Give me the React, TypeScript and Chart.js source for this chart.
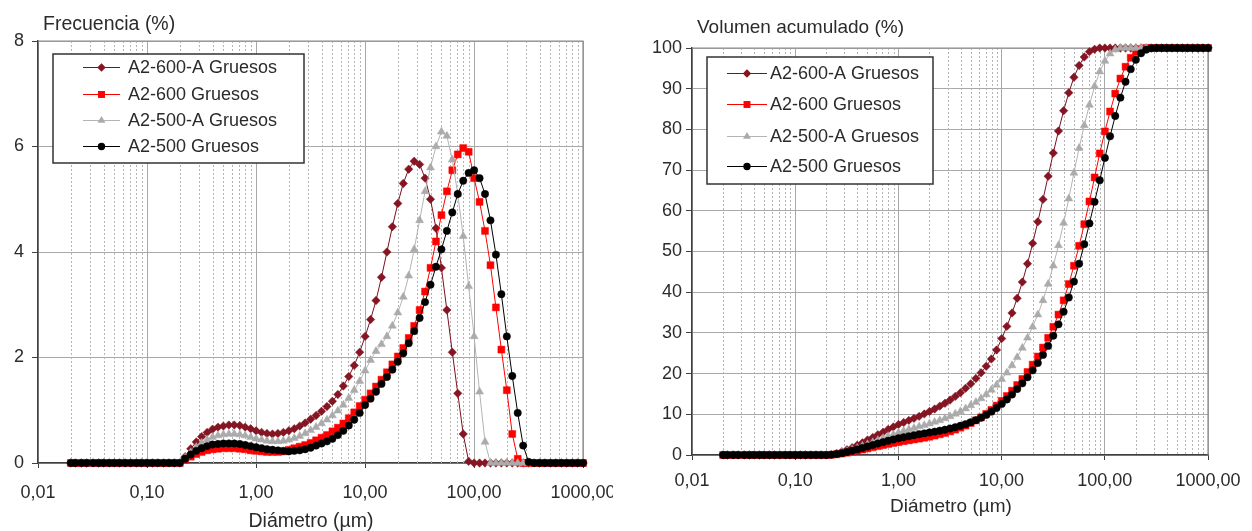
import React, { useEffect, useRef } from 'react';
import { Chart, registerables } from 'chart.js';

Chart.register(...registerables);

// ---------- DATA ----------
const DIAMETERS = [
  0.02, 0.022, 0.025, 0.028, 0.032, 0.036, 0.04, 0.045, 0.05, 0.056,
  0.063, 0.071, 0.08, 0.089, 0.1, 0.112, 0.126, 0.142, 0.159, 0.178,
  0.2, 0.224, 0.252, 0.283, 0.317, 0.356, 0.399, 0.448, 0.502, 0.564,
  0.632, 0.71, 0.796, 0.893, 1.002, 1.125, 1.262, 1.416, 1.589, 1.783,
  2.0, 2.244, 2.518, 2.825, 3.17, 3.557, 3.991, 4.477, 5.024, 5.637,
  6.325, 7.096, 7.962, 8.934, 10.024, 11.247, 12.619, 14.159, 15.887, 17.825,
  20.0, 22.44, 25.179, 28.251, 31.698, 35.566, 39.905, 44.774, 50.238, 56.368,
  63.246, 70.963, 79.621, 89.337, 100.237, 112.468, 126.191, 141.589, 158.866, 178.25,
  200.0, 224.404, 251.785, 282.508, 316.979, 355.656, 399.052, 447.744, 502.377, 563.677,
  632.456, 709.627, 796.214, 893.367, 1002.374,
];

const FREQ_A2_600_A = [
  0, 0, 0, 0, 0, 0, 0, 0, 0, 0,
  0, 0, 0, 0, 0, 0, 0, 0, 0, 0,
  0, 0.12, 0.27, 0.4, 0.5, 0.58, 0.64, 0.68, 0.7, 0.72,
  0.72, 0.71, 0.68, 0.65, 0.61, 0.58, 0.56, 0.55, 0.56, 0.58,
  0.61, 0.65, 0.7, 0.76, 0.83, 0.9, 0.98, 1.07, 1.17, 1.3,
  1.46, 1.64, 1.85, 2.1, 2.4, 2.72, 3.08, 3.52, 4.0, 4.48,
  4.92, 5.3, 5.57, 5.72, 5.66, 5.4, 5.0, 4.45, 3.7, 2.9,
  2.1, 1.32, 0.55, 0.03, 0, 0, 0, 0, 0, 0,
  0, 0, 0, 0, 0, 0, 0, 0, 0, 0,
  0, 0, 0, 0, 0,
];

const FREQ_A2_600 = [
  0, 0, 0, 0, 0, 0, 0, 0, 0, 0,
  0, 0, 0, 0, 0, 0, 0, 0, 0, 0,
  0, 0.06, 0.12, 0.17, 0.21, 0.24, 0.26, 0.27, 0.28, 0.28,
  0.28, 0.27, 0.26, 0.24, 0.23, 0.22, 0.21, 0.21, 0.21, 0.22,
  0.25, 0.28, 0.31, 0.34, 0.38, 0.43, 0.48, 0.53, 0.6, 0.67,
  0.75, 0.85, 0.96, 1.08, 1.2, 1.32, 1.45, 1.58, 1.72, 1.87,
  2.02, 2.18, 2.37, 2.6, 2.9, 3.25, 3.7, 4.2, 4.7, 5.15,
  5.55, 5.85, 5.97, 5.9, 5.4, 4.95, 4.4, 3.75, 2.95, 2.15,
  1.38, 0.55, 0.08, 0, 0, 0, 0, 0, 0, 0,
  0, 0, 0, 0, 0,
];

const FREQ_A2_500_A = [
  0, 0, 0, 0, 0, 0, 0, 0, 0, 0,
  0, 0, 0, 0, 0, 0, 0, 0, 0, 0,
  0, 0.1, 0.2, 0.3, 0.38, 0.44, 0.49, 0.52, 0.54, 0.55,
  0.55, 0.54, 0.52, 0.49, 0.46, 0.44, 0.42, 0.41, 0.41, 0.42,
  0.44, 0.47, 0.51, 0.56, 0.62, 0.68, 0.75, 0.82, 0.9, 0.99,
  1.1, 1.23, 1.38, 1.55, 1.75, 1.95, 2.12, 2.25, 2.4, 2.6,
  2.85, 3.15, 3.55, 4.05, 4.6, 5.15, 5.6, 6.0, 6.28, 6.2,
  5.75, 5.1, 4.3, 3.35, 2.4, 1.35, 0.4, 0, 0, 0,
  0, 0, 0, 0, 0, 0, 0, 0, 0, 0,
  0, 0, 0, 0, 0,
];

const FREQ_A2_500 = [
  0, 0, 0, 0, 0, 0, 0, 0, 0, 0,
  0, 0, 0, 0, 0, 0, 0, 0, 0, 0,
  0, 0.08, 0.16, 0.23, 0.28, 0.32, 0.35, 0.36, 0.37, 0.37,
  0.37, 0.36, 0.34, 0.32, 0.3, 0.28, 0.26, 0.25, 0.24, 0.23,
  0.22, 0.23, 0.24, 0.26, 0.29, 0.33, 0.37, 0.41, 0.46, 0.53,
  0.61, 0.71, 0.82, 0.95, 1.1, 1.22, 1.35, 1.5, 1.63, 1.77,
  1.92, 2.08, 2.27, 2.5, 2.75, 3.05, 3.38, 3.72, 4.05, 4.4,
  4.75, 5.1, 5.35, 5.5, 5.55, 5.4, 5.1, 4.6, 3.95, 3.2,
  2.4, 1.65, 0.95, 0.33, 0.02, 0, 0, 0, 0, 0,
  0, 0, 0, 0, 0,
];

const CUM_A2_600_A = [
  0, 0, 0, 0, 0, 0, 0, 0, 0, 0,
  0, 0, 0, 0, 0, 0, 0, 0, 0, 0,
  0, 0.1, 0.4, 0.8, 1.3, 1.8, 2.4, 3.0, 3.7, 4.3,
  5.0, 5.6, 6.3, 6.9, 7.5, 8.0, 8.5, 9.0, 9.5, 10.1,
  10.7, 11.3, 12.0, 12.7, 13.5, 14.4, 15.3, 16.4, 17.5, 18.8,
  20.2, 21.8, 23.6, 25.8, 28.6, 31.6, 34.9, 38.5, 42.5, 47.0,
  52.0, 57.3, 62.8, 68.5, 74.2, 79.6, 84.6, 89.0, 92.8, 95.7,
  97.8, 99.1, 99.7, 100, 100, 100, 100, 100, 100, 100,
  100, 100, 100, 100, 100, 100, 100, 100, 100, 100,
  100, 100, 100, 100, 100,
];

const CUM_A2_600 = [
  0, 0, 0, 0, 0, 0, 0, 0, 0, 0,
  0, 0, 0, 0, 0, 0, 0, 0, 0, 0,
  0, 0.06, 0.18, 0.35, 0.56, 0.8, 1.06, 1.33, 1.61, 1.89,
  2.17, 2.44, 2.7, 2.94, 3.17, 3.39, 3.6, 3.81, 4.02, 4.24,
  4.49, 4.77, 5.08, 5.42, 5.8, 6.23, 6.71, 7.24, 7.84, 8.51,
  9.26, 10.11, 11.07, 12.15, 13.3, 14.5, 15.8, 17.2, 18.7, 20.4,
  22.2, 24.2, 26.4, 28.8, 31.5, 34.5, 38.0, 42.0, 46.5, 51.4,
  56.7, 62.3, 68.2, 74.1, 79.5, 84.4, 88.8, 92.5, 95.4, 97.6,
  99.0, 99.7, 100, 100, 100, 100, 100, 100, 100, 100,
  100, 100, 100, 100, 100,
];

const CUM_A2_500_A = [
  0, 0, 0, 0, 0, 0, 0, 0, 0, 0,
  0, 0, 0, 0, 0, 0, 0, 0, 0, 0,
  0, 0.1, 0.3, 0.6, 0.9, 1.3, 1.7, 2.2, 2.6, 3.1,
  3.6, 4.1, 4.6, 5.0, 5.5, 5.9, 6.3, 6.6, 7.0, 7.3,
  7.7, 8.1, 8.5, 9.0, 9.5, 10.1, 10.7, 11.4, 12.2, 13.0,
  13.9, 14.9, 16.0, 17.2, 18.6, 20.2, 22.0, 24.0, 26.3, 28.8,
  31.5, 34.5, 38.0, 42.0, 46.5, 51.5, 57.0, 63.0, 69.3, 75.4,
  81.0, 86.0, 90.6, 94.2, 96.8, 98.6, 99.6, 100, 100, 100,
  100, 100, 100, 100, 100, 100, 100, 100, 100, 100,
  100, 100, 100, 100, 100,
];

const CUM_A2_500 = [
  0, 0, 0, 0, 0, 0, 0, 0, 0, 0,
  0, 0, 0, 0, 0, 0, 0, 0, 0, 0,
  0, 0.08, 0.24, 0.46, 0.73, 1.04, 1.38, 1.73, 2.09, 2.45,
  2.81, 3.16, 3.49, 3.8, 4.1, 4.37, 4.62, 4.86, 5.09, 5.31,
  5.52, 5.74, 5.97, 6.22, 6.5, 6.82, 7.18, 7.58, 8.03, 8.55,
  9.15, 9.85, 10.65, 11.55, 12.55, 13.65, 14.85, 16.2, 17.6, 19.1,
  20.8, 22.6, 24.6, 26.8, 29.3, 32.1, 35.2, 38.7, 42.6, 47.0,
  51.8, 56.9, 62.2, 67.5, 73.0, 78.3, 83.3, 87.8, 91.7, 94.8,
  97.1, 98.7, 99.6, 99.95, 100, 100, 100, 100, 100, 100,
  100, 100, 100, 100, 100,
];

const SERIES_NAMES = ['A2-600-A Gruesos', 'A2-600 Gruesos', 'A2-500-A Gruesos', 'A2-500 Gruesos'];
const X_TICKS = [0.01, 0.1, 1, 10, 100, 1000];
const X_TICK_LABELS = ['0,01', '0,10', '1,00', '10,00', '100,00', '1000,00'];
const MINOR_MULTIPLIERS = [2, 3, 4, 5, 6, 7, 8, 9];

// ---------- STYLE ----------
const FONT = '"Liberation Sans", Arial, sans-serif';
const TEXT = '#2b2b2b';
const AXIS = '#404040';
const GRID = '#a8a8a8';
const MINOR = '#b4b4b4';
const FRAME = '#8a8a8a';

type MarkerKind = 'rectRot' | 'rect' | 'triangle' | 'circle';
const STYLES: { color: string; line: string; marker: MarkerKind; radius: number }[] = [
  { color: '#851522', line: '#7a1020', marker: 'rectRot', radius: 4.2 },
  { color: '#ff0000', line: '#ff0000', marker: 'rect', radius: 4.9 },
  { color: '#ababab', line: '#b4b4b4', marker: 'triangle', radius: 4.6 },
  { color: '#000000', line: '#000000', marker: 'circle', radius: 3.7 },
];

type Spec = {
  width: number;
  height: number;
  area: { left: number; top: number; right: number; bottom: number };
  yMax: number;
  yStep: number;
  yTickPad: number;
  xTickPad: number;
  series: number[][];
  title: string;
  titleSize: number;
  titleX: number;
  titleY: number;
  xTitle: string;
  xTitleX: number;
  xTitleY: number;
  legend: { x: number; y: number; w: number; h: number; rows: number[]; lineX0: number; lineX1: number; textX: number };
};

function drawMarker(ctx: CanvasRenderingContext2D, kind: MarkerKind, x: number, y: number, r: number, color: string) {
  ctx.save();
  ctx.fillStyle = color;
  ctx.beginPath();
  if (kind === 'circle') {
    ctx.arc(x, y, r, 0, Math.PI * 2);
  } else if (kind === 'rect') {
    const s = Math.SQRT1_2 * r;
    ctx.rect(x - s, y - s, 2 * s, 2 * s);
  } else if (kind === 'rectRot') {
    ctx.moveTo(x, y - r);
    ctx.lineTo(x + r, y);
    ctx.lineTo(x, y + r);
    ctx.lineTo(x - r, y);
    ctx.closePath();
  } else {
    ctx.moveTo(x, y - r);
    ctx.lineTo(x + r * 0.866, y + r * 0.5);
    ctx.lineTo(x - r * 0.866, y + r * 0.5);
    ctx.closePath();
  }
  ctx.fill();
  ctx.restore();
}

function buildConfig(spec: Spec): any {
  const datasets = spec.series.map((vals, i) => ({
    label: SERIES_NAMES[i],
    data: DIAMETERS.map((d, j) => ({ x: d, y: vals[j] })),
    borderColor: STYLES[i].line,
    backgroundColor: STYLES[i].color,
    pointBackgroundColor: STYLES[i].color,
    pointBorderColor: STYLES[i].color,
    pointStyle: STYLES[i].marker,
    pointRadius: STYLES[i].radius,
    pointBorderWidth: 0.5,
    borderWidth: 1,
    tension: 0,
    fill: false,
    order: 3 - i,
    clip: false,
  }));

  const decor = {
    id: 'decor',
    beforeDatasetsDraw(chart: any) {
      const { ctx, chartArea: a } = chart;
      const x = chart.scales.x;
      ctx.save();
      ctx.strokeStyle = MINOR;
      ctx.lineWidth = 1;
      ctx.setLineDash([2, 2]);
      for (const dec of X_TICKS.slice(0, -1)) {
        for (const m of MINOR_MULTIPLIERS) {
          const px = Math.round(x.getPixelForValue(dec * m)) + 0.5;
          ctx.beginPath();
          ctx.moveTo(px, a.top);
          ctx.lineTo(px, a.bottom);
          ctx.stroke();
        }
      }
      ctx.setLineDash([]);
      ctx.strokeStyle = FRAME;
      ctx.lineWidth = 1.2;
      ctx.beginPath();
      ctx.moveTo(a.left, a.top);
      ctx.lineTo(a.right, a.top);
      ctx.lineTo(a.right, a.bottom);
      ctx.stroke();
      ctx.restore();
    },
    afterDraw(chart: any) {
      const ctx: CanvasRenderingContext2D = chart.ctx;
      const L = spec.legend;
      ctx.save();
      ctx.fillStyle = '#ffffff';
      ctx.fillRect(L.x, L.y, L.w, L.h);
      ctx.strokeStyle = '#333333';
      ctx.lineWidth = 1.5;
      ctx.strokeRect(L.x, L.y, L.w, L.h);
      ctx.font = `18px ${FONT}`;
      ctx.textBaseline = 'middle';
      ctx.textAlign = 'left';
      L.rows.forEach((ry, i) => {
        const st = STYLES[i];
        ctx.strokeStyle = st.line;
        ctx.lineWidth = 1;
        ctx.beginPath();
        ctx.moveTo(L.lineX0, ry + 0.5);
        ctx.lineTo(L.lineX1, ry + 0.5);
        ctx.stroke();
        drawMarker(ctx, st.marker, (L.lineX0 + L.lineX1) / 2, ry + 0.5, st.radius, st.color);
        ctx.fillStyle = TEXT;
        ctx.fillText(SERIES_NAMES[i], L.textX, ry + 1);
      });
      ctx.fillStyle = TEXT;
      ctx.textBaseline = 'alphabetic';
      ctx.font = `${spec.titleSize}px ${FONT}`;
      ctx.textAlign = 'left';
      ctx.fillText(spec.title, spec.titleX, spec.titleY);
      ctx.textAlign = 'center';
      ctx.fillText(spec.xTitle, spec.xTitleX, spec.xTitleY);
      ctx.restore();
    },
  };

  return {
    type: 'line',
    data: { datasets },
    options: {
      animation: false,
      responsive: false,
      maintainAspectRatio: false,
      devicePixelRatio: 1,
      layout: { padding: { left: 0, top: spec.area.top, right: spec.width - spec.area.right, bottom: 0 } },
      plugins: { legend: { display: false }, tooltip: { enabled: false }, title: { display: false } },
      events: [],
      scales: {
        x: {
          type: 'logarithmic',
          min: X_TICKS[0],
          max: X_TICKS[X_TICKS.length - 1],
          afterBuildTicks: (scale: any) => {
            scale.ticks = X_TICKS.map((v) => ({ value: v }));
          },
          afterFit: (scale: any) => {
            scale.height = spec.height - spec.area.bottom;
            scale.paddingLeft = 0;
            scale.paddingRight = 0;
          },
          ticks: {
            autoSkip: false,
            maxRotation: 0,
            minRotation: 0,
            padding: spec.xTickPad,
            color: TEXT,
            font: { family: FONT, size: 18 },
            callback: (v: number) => {
              const idx = X_TICKS.findIndex((t) => Math.abs(t - v) / t < 1e-6);
              return idx >= 0 ? X_TICK_LABELS[idx] : '';
            },
          },
          grid: { color: GRID, lineWidth: 1, tickLength: 5, tickColor: AXIS, drawTicks: true },
          border: { display: true, color: AXIS, width: 1.5 },
        },
        y: {
          type: 'linear',
          min: 0,
          max: spec.yMax,
          afterFit: (scale: any) => {
            scale.width = spec.area.left;
            scale.paddingTop = 0;
            scale.paddingBottom = 0;
          },
          ticks: {
            stepSize: spec.yStep,
            padding: spec.yTickPad,
            color: TEXT,
            font: { family: FONT, size: 18 },
            callback: (v: number) => String(v),
          },
          grid: { color: GRID, lineWidth: 1, tickLength: 6, tickColor: AXIS, drawTicks: true },
          border: { display: true, color: AXIS, width: 1.5 },
        },
      },
    },
    plugins: [decor],
  };
}

const LEFT_W = 613;
const RIGHT_W = 1252 - LEFT_W;

const LEFT_SPEC: Spec = {
  width: LEFT_W,
  height: 531,
  area: { left: 38, top: 41, right: 583, bottom: 463 },
  yMax: 8,
  yStep: 2,
  yTickPad: 8,
  xTickPad: 14,
  series: [FREQ_A2_600_A, FREQ_A2_600, FREQ_A2_500_A, FREQ_A2_500],
  title: 'Frecuencia (%)',
  titleSize: 19.5,
  titleX: 43,
  titleY: 30,
  xTitle: 'Diámetro (µm)',
  xTitleX: 311,
  xTitleY: 527,
  legend: { x: 53, y: 54, w: 251, h: 109, rows: [67, 94, 120, 146], lineX0: 83, lineX1: 120, textX: 128 },
};

const RIGHT_SPEC: Spec = {
  width: RIGHT_W,
  height: 531,
  area: { left: 692 - LEFT_W, top: 48, right: 1208 - LEFT_W, bottom: 455 },
  yMax: 100,
  yStep: 10,
  yTickPad: 4,
  xTickPad: 10,
  series: [CUM_A2_600_A, CUM_A2_600, CUM_A2_500_A, CUM_A2_500],
  title: 'Volumen acumulado (%)',
  titleSize: 19,
  titleX: 697 - LEFT_W,
  titleY: 33,
  xTitle: 'Diámetro (µm)',
  xTitleX: 951 - LEFT_W,
  xTitleY: 512,
  legend: { x: 707 - LEFT_W, y: 57, w: 226, h: 127, rows: [73, 104, 136, 166], lineX0: 727 - LEFT_W, lineX1: 767 - LEFT_W, textX: 770 - LEFT_W },
};

export default function App() {
  const leftRef = useRef<HTMLCanvasElement>(null);
  const rightRef = useRef<HTMLCanvasElement>(null);

  useEffect(() => {
    const c1 = new Chart(leftRef.current as HTMLCanvasElement, buildConfig(LEFT_SPEC));
    const c2 = new Chart(rightRef.current as HTMLCanvasElement, buildConfig(RIGHT_SPEC));
    return () => {
      c1.destroy();
      c2.destroy();
    };
  }, []);

  return (
    <div style={{ position: 'fixed', left: 0, top: 0, width: 1252, height: 531, background: '#ffffff', overflow: 'hidden' }}>
      <canvas
        ref={leftRef}
        width={LEFT_W}
        height={531}
        style={{ position: 'absolute', left: 0, top: 0, width: LEFT_W, height: 531 }}
      />
      <canvas
        ref={rightRef}
        width={RIGHT_W}
        height={531}
        style={{ position: 'absolute', left: LEFT_W, top: 0, width: RIGHT_W, height: 531 }}
      />
    </div>
  );
}
